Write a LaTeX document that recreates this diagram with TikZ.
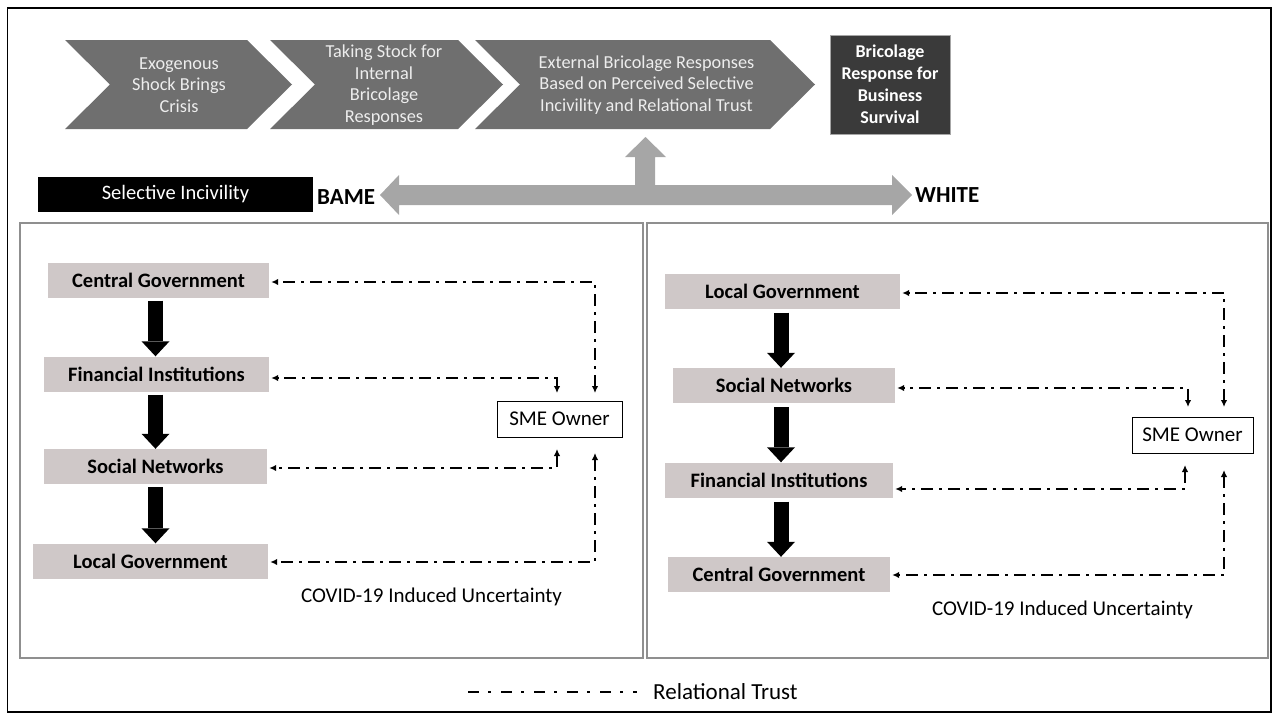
\documentclass[tikz,border=0pt]{standalone}
\usepackage{fontspec}
\setmainfont{Carlito}
\usetikzlibrary{arrows.meta}
\definecolor{chevgrey}{HTML}{6F6F6F}
\definecolor{chevtxt}{HTML}{EDEDED}
\definecolor{darkgrey}{HTML}{3A3A3A}
\definecolor{actorgrey}{HTML}{CFC8C8}
\definecolor{arrowgrey}{HTML}{A6A6A6}
\definecolor{panelgrey}{HTML}{8F8F8F}
\begin{document}
\begin{tikzpicture}[x=1pt,y=-1pt,
  chev/.style={fill=chevgrey},
  chevtext/.style={text=chevtxt, font=\fontsize{18.3}{21.7}\selectfont, align=center, inner sep=0pt},
  darkbox/.style={fill=darkgrey, draw=gray!70, line width=0.8pt, text=white, font=\bfseries\fontsize{18}{22}\selectfont, align=center, minimum width=120pt, minimum height=99pt, inner sep=0pt},
  actor/.style={fill=actorgrey, font=\bfseries\fontsize{20.5}{24}\selectfont, minimum height=35pt, inner sep=0pt},
  smebox/.style={draw=black, line width=0.9pt, fill=white, font=\fontsize{21}{24}\selectfont, minimum height=36pt, inner sep=0pt},
  panel/.style={draw=panelgrey, line width=1.3pt},
  plaintext/.style={font=\fontsize{21}{24}\selectfont, inner sep=0pt},
  rt/.style={line width=2.1pt, dash pattern=on 11.5pt off 6.5pt on 2.5pt off 6.5pt,
     {Latex[length=7pt,width=6.5pt]}-{Latex[length=7pt,width=6.5pt]}},
  blackarr/.style={line width=15pt, -{Triangle[length=15pt,width=28pt,line width=0pt]}},
]
\useasboundingbox (0,0) rectangle (1278,720);
% outer frame
\draw[line width=1.2pt] (7.5,8) rectangle (1271,712);

% process chevrons
\fill[chev] (65,40) -- (247,40) -- (292,84.5) -- (247,129) -- (65,129) -- (110,84.5) -- cycle;
\node[chevtext] (c1) at (179,85) {Exogenous\\Shock Brings\\Crisis};
\fill[chev] (270,40) -- (458,40) -- (503,84.5) -- (458,129) -- (270,129) -- (315,84.5) -- cycle;
\node[chevtext] (c2) at (384,85) {Taking Stock for\\Internal\\Bricolage\\Responses};
\fill[chev] (475,40) -- (770,40) -- (815,84.5) -- (770,129) -- (475,129) -- (520,84.5) -- cycle;
\node[chevtext] (c3) at (646.5,85) {External Bricolage Responses\\Based on Perceived Selective\\Incivility and Relational Trust};
\node[darkbox] (surv) at (890,84.5) {Bricolage\\Response for\\Business\\Survival};

% selective incivility bar
\node[fill=black, text=white, font=\fontsize{20.5}{24}\selectfont, minimum width=275pt, minimum height=35pt, inner sep=0pt] (si) at (175.5,194.5) {Selective Incivility};
\node[font=\bfseries\fontsize{23}{26}\selectfont, anchor=west, inner sep=0pt] (bame) at (317,197) {BAME};
\node[font=\bfseries\fontsize{23}{26}\selectfont, anchor=west, inner sep=0pt] (white) at (915,195) {WHITE};

% big grey T-arrow
\fill[arrowgrey] (380,195) -- (399,175) -- (399,185) -- (635,185) -- (635,157) -- (625,157)
  -- (645.5,137) -- (666,157) -- (655,157) -- (655,185) -- (892,185) -- (892,175)
  -- (912,195) -- (892,215) -- (892,205) -- (399,205) -- (399,215) -- cycle;

% panels
\draw[panel] (20,223) rectangle (643,658);
\draw[panel] (647,223) rectangle (1268,658);

% ---------- left panel (BAME) ----------
\node[actor, minimum width=221pt] (cgL) at (158.5,280) {Central Government};
\node[actor, minimum width=225pt] (fiL) at (156.5,374) {Financial Institutions};
\node[actor, minimum width=223pt] (snL) at (155.5,466.5) {Social Networks};
\node[actor, minimum width=235pt] (lgL) at (150.5,561) {Local Government};
\node[smebox, minimum width=125pt] (smeL) at (559.5,419) {SME Owner};
\node[plaintext] (covL) at (431.5,597) {COVID-19 Induced Uncertainty};

\coordinate (colL) at (155.5,0);
\draw[blackarr, shorten <=3pt] (cgL.south -| colL) -- (fiL.north -| colL);
\draw[blackarr, shorten <=3pt] (fiL.south -| colL) -- (snL.north -| colL);
\draw[blackarr, shorten <=3pt] (snL.south -| colL) -- (lgL.north -| colL);

\coordinate (aL1) at (557,393);
\coordinate (aL2) at (595,393);
\coordinate (aL3) at (557,449);
\coordinate (aL4) at (595,453);
\draw[rt] (aL2) |- ([xshift=2pt,yshift=-2pt]cgL.east);
\draw[rt] (aL1) |- ([xshift=2pt,yshift=-4pt]fiL.east);
\draw[rt] (aL3) |- ([xshift=2pt,yshift=-1.5pt]snL.east);
\draw[rt] (aL4) |- ([xshift=2pt,yshift=-1pt]lgL.east);

% ---------- right panel (WHITE) ----------
\node[actor, minimum width=235pt] (lgR) at (782.5,291) {Local Government};
\node[actor, minimum width=222pt] (snR) at (784,385.5) {Social Networks};
\node[actor, minimum width=228pt] (fiR) at (779,480) {Financial Institutions};
\node[actor, minimum width=222pt] (cgR) at (779,574.5) {Central Government};
\node[smebox, minimum width=121pt] (smeR) at (1192.5,435) {SME Owner};
\node[plaintext] (covR) at (1062.5,610) {COVID-19 Induced Uncertainty};

\coordinate (colR) at (781,0);
\draw[blackarr, shorten <=4pt] (lgR.south -| colR) -- (snR.north -| colR);
\draw[blackarr, shorten <=4pt] (snR.south -| colR) -- (fiR.north -| colR);
\draw[blackarr, shorten <=4pt] (fiR.south -| colR) -- (cgR.north -| colR);

\coordinate (aR1) at (1188,407);
\coordinate (aR2) at (1224,407);
\coordinate (aR3) at (1185,465);
\coordinate (aR4) at (1224,470);
\draw[rt] (aR2) |- ([xshift=2pt,yshift=-2pt]lgR.east);
\draw[rt] (aR1) |- ([xshift=2pt,yshift=-2.5pt]snR.east);
\draw[rt] (aR3) |- ([xshift=2pt,yshift=-9pt]fiR.east);
\draw[rt] (aR4) |- ([xshift=2pt,yshift=-0.5pt]cgR.east);

% legend
\node[font=\fontsize{23}{26}\selectfont, anchor=west, inner sep=0pt] (leg) at (653,692) {Relational Trust};
\coordinate (legA) at (468,692);
\draw[line width=2.6pt, dash pattern=on 11pt off 9pt on 3pt off 10pt] (legA) -- ([xshift=-16pt]leg.west);
\end{tikzpicture}
\end{document}
